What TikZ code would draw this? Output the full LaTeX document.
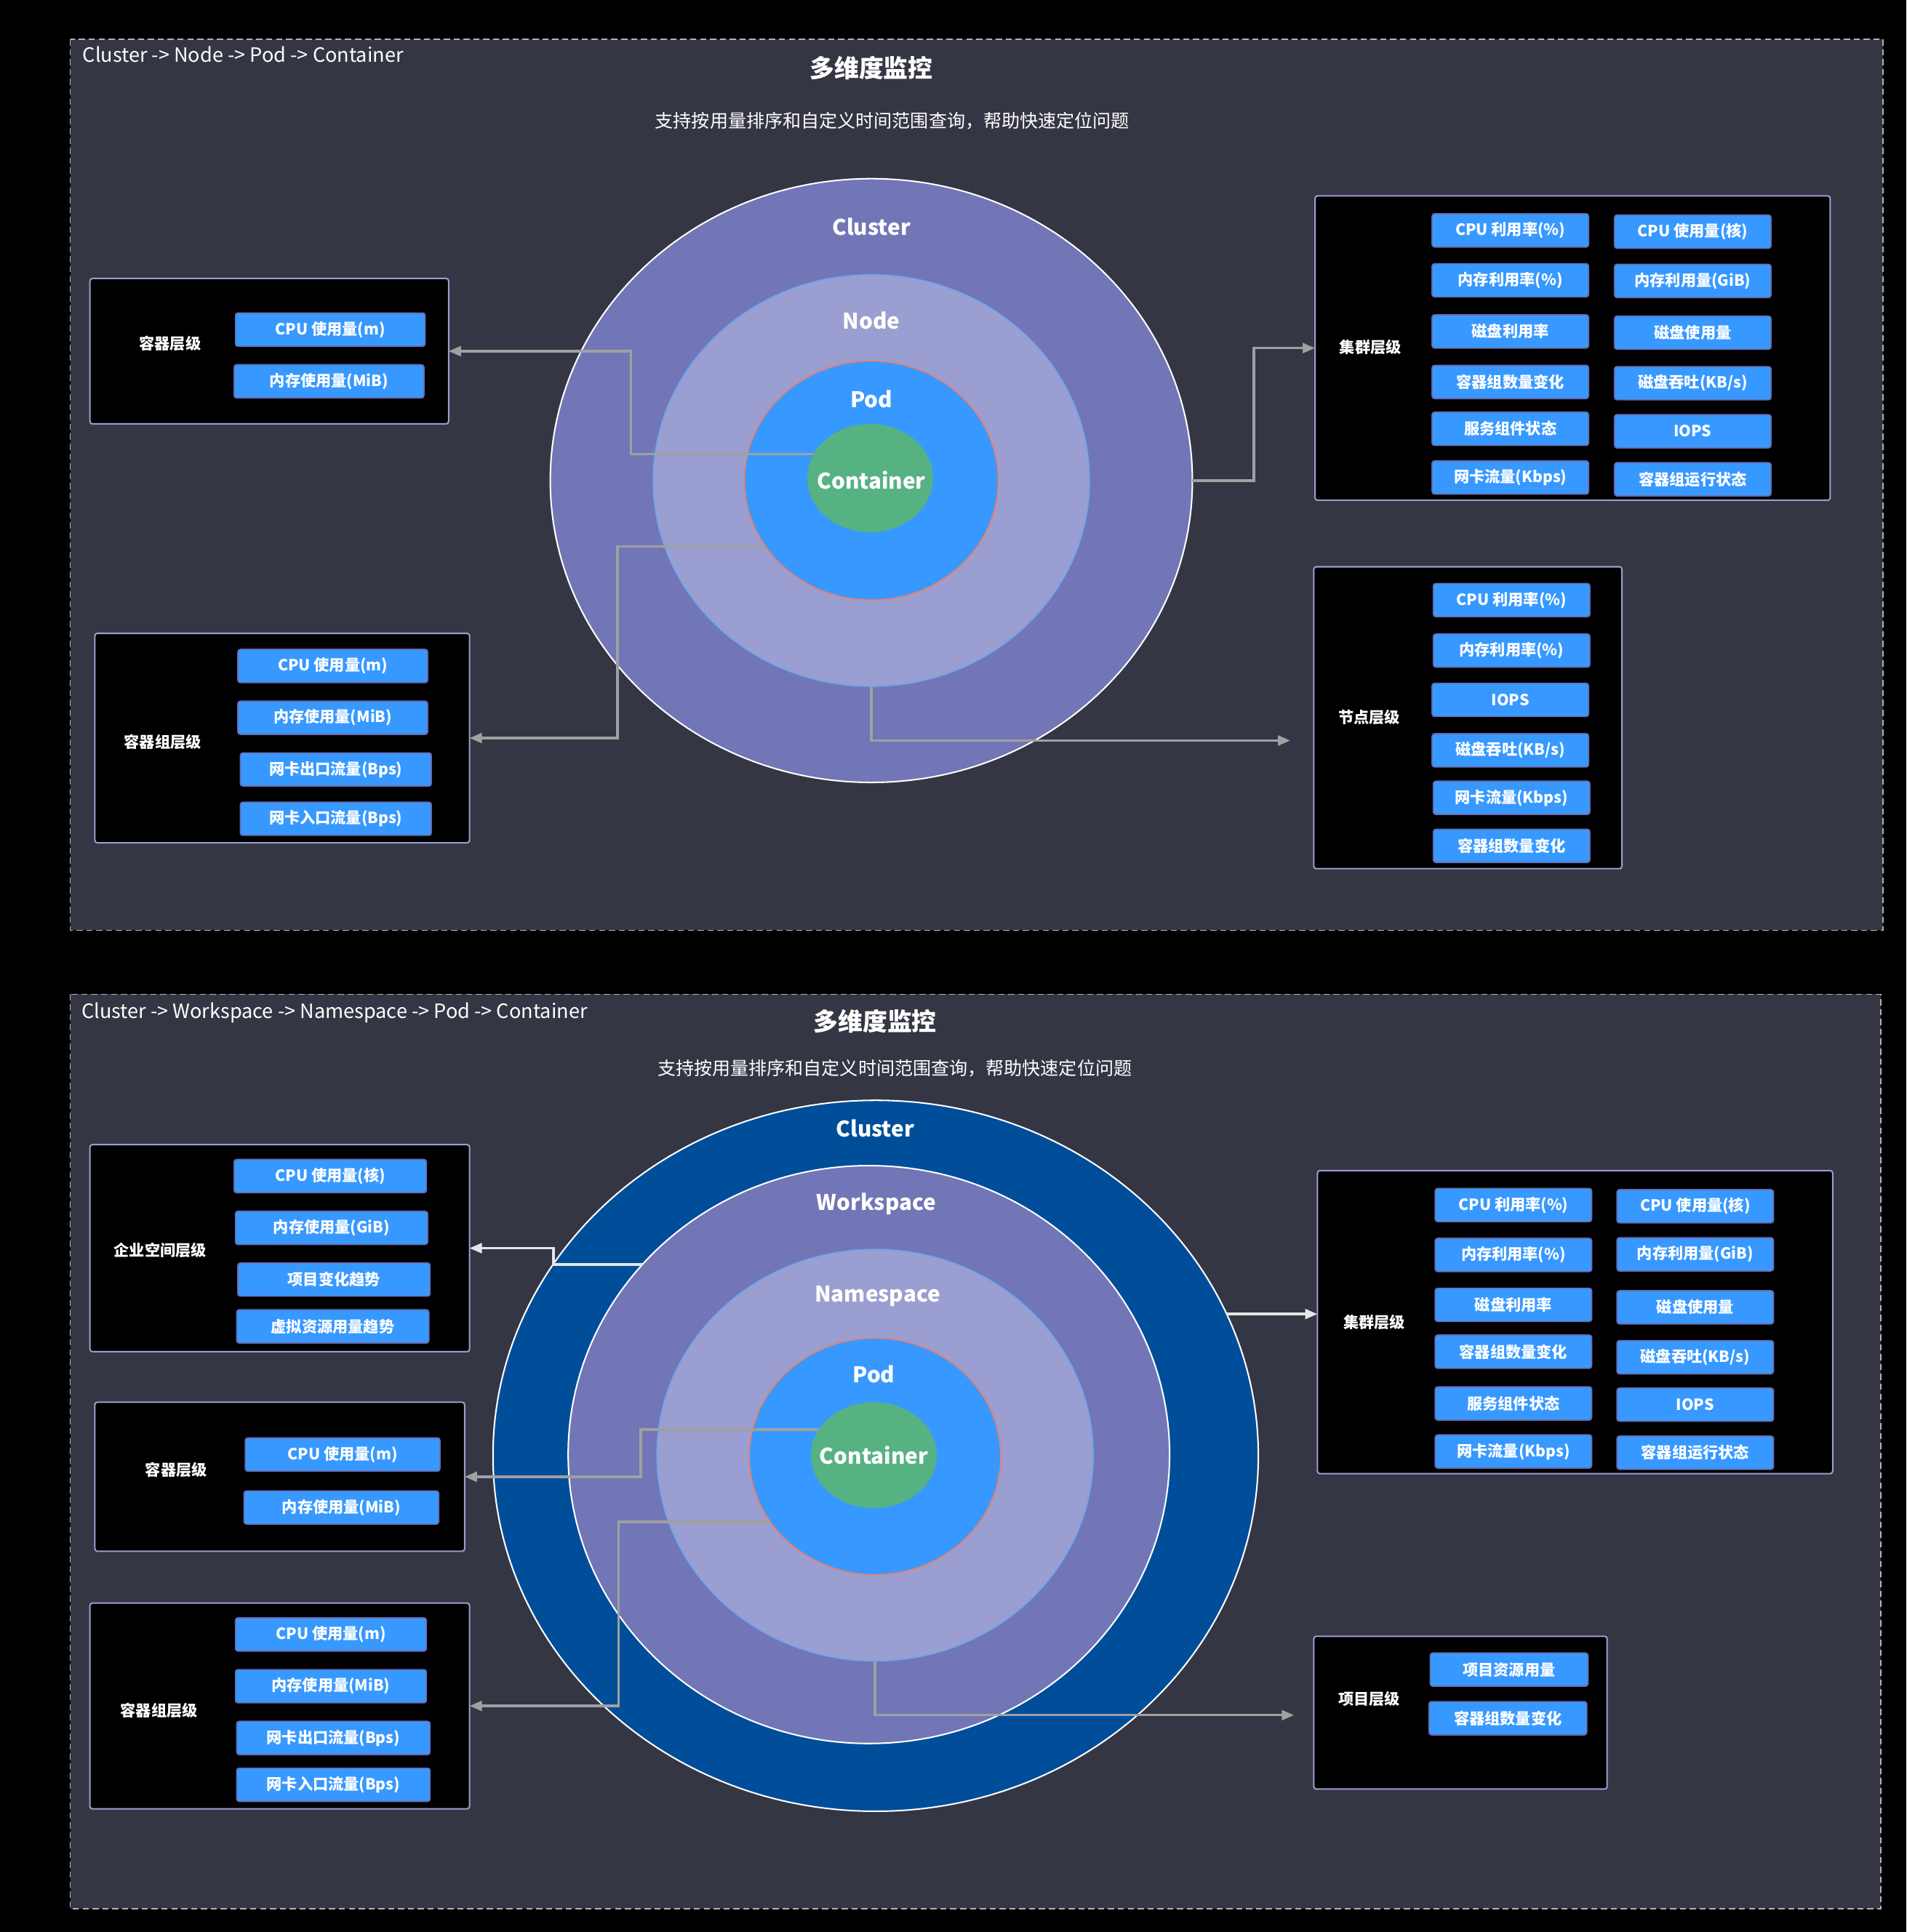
\documentclass[tikz,border=0pt]{standalone}
\usepackage{fontspec}
\setmainfont{Noto Sans CJK SC}
\usetikzlibrary{shapes.geometric,arrows.meta}
\definecolor{panelfill}{HTML}{353644}
\definecolor{dashcol}{HTML}{B4B4B4}
\definecolor{boxdraw}{HTML}{9A9ED0}
\definecolor{btnfill}{HTML}{3799FF}
\definecolor{btndraw}{HTML}{6A6AB0}
\definecolor{clfill}{HTML}{7276B6}
\definecolor{ndfill}{HTML}{9A9ED0}
\definecolor{ndline}{HTML}{6CA6F0}
\definecolor{pdline}{HTML}{E8806E}
\definecolor{ctfill}{HTML}{56B283}
\definecolor{dkblue}{HTML}{004E9A}
\definecolor{conncol}{HTML}{A0A0A0}
\definecolor{connlt}{HTML}{E6E6E6}
\tikzset{
  panel/.style={draw=dashcol, dash pattern=on 5pt off 3pt, fill=panelfill, line width=1pt},
  lvbox/.style={draw=boxdraw, fill=black, rounded corners=2pt, line width=1.2pt, inner sep=0pt, outer sep=0pt},
  lvlabel/.style={text=white, font=\bfseries\fontsize{12.5}{14}\selectfont, inner sep=0pt},
  btn/.style={fill=btnfill, draw=btndraw, rounded corners=2pt, line width=1pt, text=white,
    font=\bfseries\fontsize{12.5}{14}\selectfont, minimum height=27pt, inner sep=0pt},
  ring/.style={ellipse, inner sep=0pt, outer sep=0pt},
  ringlabel/.style={text=white, font=\bfseries\fontsize{17.5}{20}\selectfont, inner sep=0pt},
  conn/.style={draw=conncol, line width=2pt, -{Triangle[length=10pt,width=8pt]}},
  connl/.style={draw=connlt, line width=2pt, -{Triangle[length=10pt,width=8pt]}},
  titletext/.style={text=white, font=\bfseries\fontsize{20}{24}\selectfont, inner sep=0pt},
  subtext/.style={text=white, font=\fontsize{14.8}{17}\selectfont, inner sep=0pt},
  pathtext/.style={text=white, font=\fontsize{16}{18}\selectfont, inner sep=0pt, anchor=west}
}
\begin{document}
\begin{tikzpicture}[x=1pt,y=-1pt]
\fill[black] (0,0) rectangle (1547,1568);
\useasboundingbox (0,0) rectangle (1547,1568);

% ================= TOP PANEL =================
\draw[panel] (57,32) rectangle (1528,755);
\node[pathtext] (p1path) at (67,44) {Cluster -> Node -> Pod -> Container};
\node[titletext] (p1title) at (707,55) {多维度监控};
\node[subtext] (p1sub) at (724,98) {支持按用量排序和自定义时间范围查询，帮助快速定位问题};

\node[ring, fill=clfill, draw=white, line width=1.2pt, minimum width=521pt, minimum height=490pt] (cl) at (707,390) {};
\node[ring, fill=ndfill, draw=ndline, line width=1pt, minimum width=354pt, minimum height=334pt] (nd) at (707,390) {};
\node[ring, fill=btnfill, draw=pdline, line width=1pt, minimum width=206pt, minimum height=194pt] (pd) at (707,390) {};
\node[ring, fill=ctfill, minimum width=102pt, minimum height=88pt] (ct) at (706,388) {};
\node[ringlabel] (lcl) at (707,184) {Cluster};
\node[ringlabel] (lnd) at (707,260) {Node};
\node[ringlabel] (lpd) at (707,324) {Pod};
\node[ringlabel] (lct) at (707,390) {Container};

% container level box
\node[lvbox, minimum width=291pt, minimum height=118pt] (c1box) at (218.5,285) {};
\node[lvlabel] (c1lab) at (138,279) {容器层级};
\node[btn, minimum width=154pt] (c1b1) at (268,267.5) {CPU 使用量(m)};
\node[btn, minimum width=154pt] (c1b2) at (267,309.5) {内存使用量(MiB)};

% pod level box
\node[lvbox, minimum width=304pt, minimum height=170pt] (c2box) at (229,599) {};
\node[lvlabel] (c2lab) at (132,602) {容器组层级};
\node[btn, minimum width=154pt] (c2b1) at (270,540.5) {CPU 使用量(m)};
\node[btn, minimum width=154pt] (c2b2) at (270,582.5) {内存使用量(MiB)};
\node[btn, minimum width=155pt] (c2b3) at (272.5,624.5) {网卡出口流量(Bps)};
\node[btn, minimum width=155pt] (c2b4) at (272.5,664.5) {网卡入口流量(Bps)};

% cluster level box
\node[lvbox, minimum width=418pt, minimum height=247pt] (k1box) at (1276,282.5) {};
\node[lvlabel] (k1lab) at (1112,282) {集群层级};
\node[btn, minimum width=127pt] (k1a1) at (1225.5,187) {CPU 利用率(\%)};
\node[btn, minimum width=127pt] (k1a2) at (1225.5,227.5) {内存利用率(\%)};
\node[btn, minimum width=127pt] (k1a3) at (1225.5,269) {磁盘利用率};
\node[btn, minimum width=127pt] (k1a4) at (1225.5,310) {容器组数量变化};
\node[btn, minimum width=127pt] (k1a5) at (1225.5,348) {服务组件状态};
\node[btn, minimum width=127pt] (k1a6) at (1225.5,387.5) {网卡流量(Kbps)};
\node[btn, minimum width=127pt] (k1b1) at (1373.5,188) {CPU 使用量(核)};
\node[btn, minimum width=127pt] (k1b2) at (1373.5,228) {内存利用量(GiB)};
\node[btn, minimum width=127pt] (k1b3) at (1373.5,270) {磁盘使用量};
\node[btn, minimum width=127pt] (k1b4) at (1373.5,311) {磁盘吞吐(KB/s)};
\node[btn, minimum width=127pt] (k1b5) at (1373.5,350) {IOPS};
\node[btn, minimum width=127pt] (k1b6) at (1373.5,389) {容器组运行状态};

% node level box
\node[lvbox, minimum width=250pt, minimum height=245pt] (n1box) at (1191,582.5) {};
\node[lvlabel] (n1lab) at (1111,582) {节点层级};
\node[btn, minimum width=127pt] (n1b1) at (1226.5,487) {CPU 利用率(\%)};
\node[btn, minimum width=127pt] (n1b2) at (1226.5,528) {内存利用率(\%)};
\node[btn, minimum width=127pt] (n1b3) at (1225.5,568) {IOPS};
\node[btn, minimum width=127pt] (n1b4) at (1225.5,609) {磁盘吞吐(KB/s)};
\node[btn, minimum width=127pt] (n1b5) at (1226.5,647.5) {网卡流量(Kbps)};
\node[btn, minimum width=127pt] (n1b6) at (1226.5,686.5) {容器组数量变化};

% connectors top
\coordinate (n1end) at (1047,601);
\draw[conn] (ct.157) -| ([xshift=148]c1box.east) -- (c1box.east);
\draw[conn] (pd.212) -| ([xshift=120]c2box.east) -- (c2box.east);
\draw[conn] (cl.east) -- ++(50,0) |- (k1box.west);
\draw[conn] (nd.south) |- (n1end);

% ================= BOTTOM PANEL =================
\draw[panel] (57,807) rectangle (1526,1549);
\node[pathtext] (p2path) at (66,822) {Cluster -> Workspace -> Namespace -> Pod -> Container};
\node[titletext] (p2title) at (710,829) {多维度监控};
\node[subtext] (p2sub) at (726,867) {支持按用量排序和自定义时间范围查询，帮助快速定位问题};

\node[ring, fill=dkblue, draw=white, line width=1.2pt, minimum width=621pt, minimum height=577pt] (cl2) at (710.5,1181.5) {};
\node[ring, fill=clfill, draw=white, line width=1.2pt, minimum width=488pt, minimum height=469pt] (ws) at (705,1180.5) {};
\node[ring, fill=ndfill, draw=ndline, line width=1pt, minimum width=354pt, minimum height=334pt] (ns) at (710,1181) {};
\node[ring, fill=btnfill, draw=pdline, line width=1pt, minimum width=204pt, minimum height=192pt] (pd2) at (710,1182) {};
\node[ring, fill=ctfill, minimum width=102pt, minimum height=86pt] (ct2) at (709,1181) {};
\node[ringlabel] (lcl2) at (710,916) {Cluster};
\node[ringlabel] (lws) at (711,977) {Workspace};
\node[ringlabel] (lns) at (712,1052) {Namespace};
\node[ringlabel] (lpd2) at (709,1115) {Pod};
\node[ringlabel] (lct2) at (709,1181) {Container};

% workspace level box
\node[lvbox, minimum width=308pt, minimum height=168pt] (w1box) at (227,1013) {};
\node[lvlabel] (w1lab) at (130,1015) {企业空间层级};
\node[btn, minimum width=156pt] (w1b1) at (268,954.5) {CPU 使用量(核)};
\node[btn, minimum width=156pt] (w1b2) at (269,996.5) {内存使用量(GiB)};
\node[btn, minimum width=156pt] (w1b3) at (271,1038.5) {项目变化趋势};
\node[btn, minimum width=156pt] (w1b4) at (270,1076.5) {虚拟资源用量趋势};

% container level box
\node[lvbox, minimum width=300pt, minimum height=121pt] (c3box) at (227,1198.5) {};
\node[lvlabel] (c3lab) at (143,1193) {容器层级};
\node[btn, minimum width=158pt] (c3b1) at (278,1180.5) {CPU 使用量(m)};
\node[btn, minimum width=158pt] (c3b2) at (277,1223.5) {内存使用量(MiB)};

% pod level box
\node[lvbox, minimum width=308pt, minimum height=167pt] (c4box) at (227,1384.5) {};
\node[lvlabel] (c4lab) at (129,1388) {容器组层级};
\node[btn, minimum width=155pt] (c4b1) at (268.5,1326.5) {CPU 使用量(m)};
\node[btn, minimum width=155pt] (c4b2) at (268.5,1368.5) {内存使用量(MiB)};
\node[btn, minimum width=157pt] (c4b3) at (270.5,1410.5) {网卡出口流量(Bps)};
\node[btn, minimum width=157pt] (c4b4) at (270.5,1448.5) {网卡入口流量(Bps)};

% cluster level box
\node[lvbox, minimum width=418pt, minimum height=246pt] (k2box) at (1278,1073) {};
\node[lvlabel] (k2lab) at (1115,1073) {集群层级};
\node[btn, minimum width=127pt] (k2a1) at (1228,978) {CPU 利用率(\%)};
\node[btn, minimum width=127pt] (k2a2) at (1228,1018.5) {内存利用率(\%)};
\node[btn, minimum width=127pt] (k2a3) at (1228,1059) {磁盘利用率};
\node[btn, minimum width=127pt] (k2a4) at (1228,1097) {容器组数量变化};
\node[btn, minimum width=127pt] (k2a5) at (1228,1139) {服务组件状态};
\node[btn, minimum width=127pt] (k2a6) at (1228,1178) {网卡流量(Kbps)};
\node[btn, minimum width=127pt] (k2b1) at (1375.5,979) {CPU 使用量(核)};
\node[btn, minimum width=127pt] (k2b2) at (1375.5,1018) {内存利用量(GiB)};
\node[btn, minimum width=127pt] (k2b3) at (1375.5,1061) {磁盘使用量};
\node[btn, minimum width=127pt] (k2b4) at (1375.5,1101.5) {磁盘吞吐(KB/s)};
\node[btn, minimum width=127pt] (k2b5) at (1375.5,1140) {IOPS};
\node[btn, minimum width=127pt] (k2b6) at (1375.5,1179) {容器组运行状态};

% project level box
\node[lvbox, minimum width=238pt, minimum height=124pt] (p1box) at (1185,1390) {};
\node[lvlabel] (p1lab) at (1111,1379) {项目层级};
\node[btn, minimum width=128pt] (p1b1) at (1224.5,1355) {项目资源用量};
\node[btn, minimum width=128pt] (p1b2) at (1223.5,1394.5) {容器组数量变化};

% connectors bottom
\coordinate (p1end) at (1050,1392);
\draw[connl] (ws.140) -| ([xshift=68]w1box.east) -- (w1box.east);
\draw[conn] (ct2.155) -| ([xshift=143]c3box.east) -- (c3box.east);
\draw[conn] (pd2.212) -| ([xshift=121]c4box.east) -- (c4box.east);
\draw[connl] (cl2.22) -- (cl2.22 -| k2box.west);
\draw[conn] (ns.south) |- (p1end);
\end{tikzpicture}
\end{document}
